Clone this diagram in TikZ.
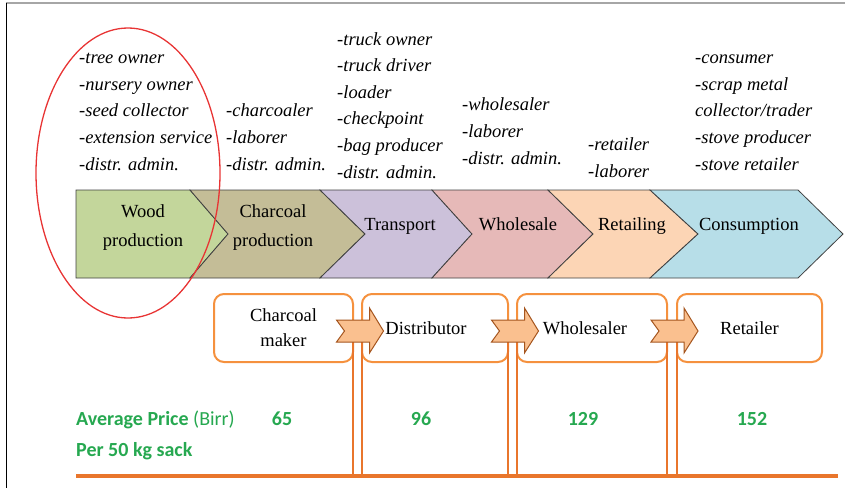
\documentclass[tikz,border=0pt]{standalone}
\usepackage{fontspec}
\setmainfont{Liberation Serif}
\newfontfamily\pricefont{Carlito}
\usepackage{tikz}
\usetikzlibrary{positioning, calc}

\definecolor{woodgreen}{RGB}{195,214,155}
\definecolor{charcoaltan}{RGB}{196,189,151}
\definecolor{transportlilac}{RGB}{204,193,218}
\definecolor{wholesalepink}{RGB}{230,185,184}
\definecolor{retailpeach}{RGB}{252,213,181}
\definecolor{consumeblue}{RGB}{183,222,232}
\definecolor{boxorange}{RGB}{245,145,62}
\definecolor{lineorange}{RGB}{233,118,44}
\definecolor{arrowfill}{RGB}{250,192,143}
\definecolor{arrowedge}{RGB}{165,85,30}
\definecolor{pricegreen}{RGB}{38,168,80}
\definecolor{ringred}{RGB}{232,52,52}

\begin{document}
\begin{tikzpicture}[
  x=1pt, y=-1pt,
  every node/.style={inner sep=0pt, font=\fontsize{18.5}{26.6}\selectfont},
  actors/.style={align=left, anchor=base west, font=\fontsize{18.5}{26.6}\selectfont\itshape},
  stage/.style={draw=black!75, line width=0.8pt},
  stagelabel/.style={align=center, font=\fontsize{18.5}{29}\selectfont},
  agent/.style={draw=boxorange, line width=2pt, rounded corners=10pt, fill=white, outer sep=0pt,
                minimum height=68pt, align=center, font=\fontsize{18.5}{25}\selectfont},
  flow/.style={fill=arrowfill, draw=arrowedge, line width=1pt},
  split/.style={draw=lineorange, line width=1.3pt},
  price/.style={text=pricegreen, font=\pricefont\bfseries\fontsize{20}{31}\selectfont}
]
  \useasboundingbox (0,0) rectangle (845,488);

  % --- frame ---
  \draw[gray!70, line width=1.5pt] (6,3) -- (845,3);
  \draw[black, line width=1pt] (6.5,3) -- (6.5,488);

  % --- value chain stages ---
  \draw[stage, fill=woodgreen] (76,190) -- (190,190) -- (228,234) -- (190,278) -- (76,278) -- cycle;
  \foreach \l/\n/\r/\t/\c in {190/228/320/365/charcoaltan, 320/365/432/472/transportlilac,
                              432/472/548/593/wholesalepink, 548/593/650/698/retailpeach,
                              650/698/798/843/consumeblue}
    \draw[stage, fill=\c] (\l,190) -- (\r,190) -- (\t,234) -- (\r,278) -- (\l,278) -- (\n,234) -- cycle;

  \node[stagelabel] (wood) at (143,228) {Wood\\production};
  \node[stagelabel] (charcoal) at (273,228) {Charcoal\\production};
  \node[anchor=base] (transport) at (400,230) {Transport};
  \node[anchor=base] (wholesale) at (518,230) {Wholesale};
  \node[anchor=base] (retailing) at (632,230) {Retailing};
  \node[anchor=base] (consumption) at (749,230) {Consumption};

  % --- actors per stage (anchored at the last line) ---
  \node[actors] (woodroles) at (79,170)
    {-tree owner\\-nursery owner\\-seed collector\\-extension service\\-distr. admin.};
  \node[actors] (charroles) at (226,170) {-charcoaler\\-laborer\\-distr. admin.};
  \node[actors] (transroles) at (337,178)
    {-truck owner\\-truck driver\\-loader\\-checkpoint\\-bag producer\\-distr. admin.};
  \node[actors] (wholeroles) at (462,164) {-wholesaler\\-laborer\\-distr. admin.};
  \node[actors] (retailroles) at (588,177) {-retailer\\-laborer};
  \node[actors] (consroles) at (695,170)
    {-consumer\\-scrap metal\\collector/trader\\-stove producer\\-stove retailer};

  \draw[ringred, line width=1.3pt] (128,173) ellipse [x radius=92, y radius=145];

  % --- market agents ---
  \node[agent, minimum width=139pt] (maker) at (283.5,328) {Charcoal\\maker};
  \node[agent, minimum width=146pt] (distributor) [right=9pt of maker] {Distributor\hspace*{18pt}};
  \node[agent, minimum width=150pt] (wholesaler) [right=9pt of distributor] {Wholesaler\hspace*{14pt}};
  \node[agent, minimum width=145pt] (retailer) [right=10pt of wholesaler] {Retailer};

  \coordinate (baseL) at (76,476);
  \coordinate (baseR) at (838,476);
  \draw[lineorange, line width=4pt] (baseL) -- (baseR);

  \foreach \a in {maker.east, distributor.west, distributor.east, wholesaler.west,
                  wholesaler.east, retailer.west}
    \draw[split] (\a) -- (\a |- baseL);

  \foreach \p/\q in {maker/distributor, distributor/wholesaler, wholesaler/retailer} {
    \coordinate (g) at ($(\p.east)!0.5!(\q.west)+(2,3)$);
    \draw[flow] ([shift={(-23,-11)}]g) -- ([shift={(10,-11)}]g) -- ([shift={(10,-23)}]g)
      -- ([shift={(24,0)}]g) -- ([shift={(10,22)}]g) -- ([shift={(10,11)}]g)
      -- ([shift={(-23,11)}]g) -- ([shift={(-15,0)}]g) -- cycle;
  }

  % --- prices ---
  \node[price, align=left, anchor=base west] (avg) at (76,456)
    {Average Price {\mdseries(Birr)}\\Per 50 kg sack};
  \node[price, anchor=base] (p65) at (282,425) {65};
  \node[price, anchor=base] (p96) at (421,425) {96};
  \node[price, anchor=base] (p129) at (583,425) {129};
  \node[price, anchor=base] (p152) at (752,425) {152};
\end{tikzpicture}
\end{document}
